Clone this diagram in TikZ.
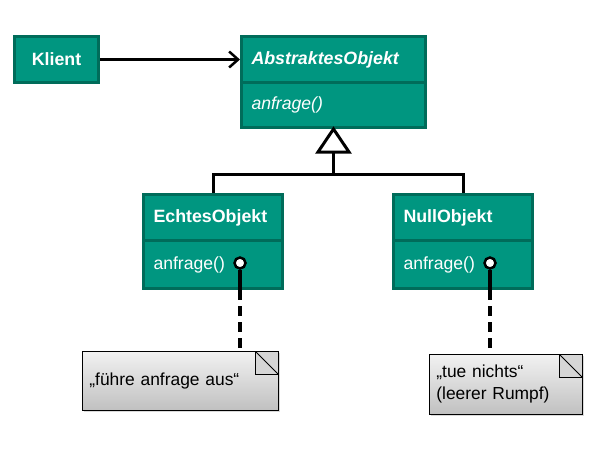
\documentclass[tikz,border=0pt]{standalone}
\usepackage{fontspec}
\setmainfont{Liberation Sans}
\usetikzlibrary{arrows.meta,shadows}
\definecolor{tealF}{RGB}{0,150,128}
\definecolor{tealB}{RGB}{0,108,90}
\definecolor{noteTop}{RGB}{242,242,242}
\definecolor{noteBot}{RGB}{192,192,192}
\definecolor{foldC}{RGB}{214,214,214}
\begin{document}
\begin{tikzpicture}[x=1pt,y=-1pt,
  cls/.style={draw=tealB, fill=tealF, line width=3pt, text=white,
    font=\fontsize{17.6}{20}\selectfont, inner ysep=0pt, inner xsep=10pt,
    anchor=north west, align=left},
  clsbold/.style={cls, font=\fontsize{17.8}{20}\selectfont\bfseries},
  note/.style={draw=black, line width=0.8pt, top color=noteTop, bottom color=noteBot,
    drop shadow={shadow xshift=2pt, shadow yshift=-2pt, fill=black!25, opacity=0.6},
    anchor=north west, inner xsep=7pt, inner ysep=0pt, align=left,
    font=\fontsize{17.4}{22}\selectfont, text=black,
    path picture={
      \fill[foldC] ([xshift=-23pt]path picture bounding box.north east) rectangle ([yshift=-23pt]path picture bounding box.north east);
      \draw[line width=0.8pt] ([xshift=-23pt]path picture bounding box.north east) -- ([xshift=-23pt,yshift=-23pt]path picture bounding box.north east) -- ([yshift=-23pt]path picture bounding box.north east);
      \draw[line width=0.8pt] ([xshift=-23pt]path picture bounding box.north east) -- ([yshift=-23pt]path picture bounding box.north east);
    }},
  ball/.style={circle, draw=black, fill=white, line width=2.5pt, minimum size=11pt, inner sep=0pt},
  gen/.style={line width=3pt, black},
  dashline/.style={line width=4pt, black, dash pattern=on 10pt off 6pt},
]
\useasboundingbox (0,0) rectangle (616,453);

% Klient
\node[clsbold, minimum width=84pt, minimum height=46pt, text width=64pt, align=center] (kl) at (13,35) {Klient};

% AbstraktesObjekt
\node[clsbold, minimum width=184pt, minimum height=46pt, text width=164pt, font=\fontsize{17.8}{20}\selectfont\bfseries\itshape] (abH) at (240,35) {AbstraktesObjekt};
\node[cls, minimum width=184pt, minimum height=45pt, text width=164pt, font=\fontsize{17.6}{20}\selectfont\itshape] (abM) at (240,81) {anfrage()};

% EchtesObjekt
\node[clsbold, minimum width=139pt, minimum height=46pt, text width=119pt] (ecH) at (142,193) {EchtesObjekt};
\node[cls, minimum width=139pt, minimum height=48pt, text width=119pt] (ecM) at (142,239) {anfrage()};

% NullObjekt
\node[clsbold, minimum width=139pt, minimum height=46pt, text width=119pt] (nuH) at (392,193) {NullObjekt};
\node[cls, minimum width=139pt, minimum height=48pt, text width=119pt] (nuM) at (392,239) {anfrage()};

% Notes
\node[note, minimum width=196pt, minimum height=59pt, text width=182pt] (n1) at (82,351) {„führe anfrage aus“};
\node[note, minimum width=153pt, minimum height=60pt, text width=139pt] (n2) at (429,354) {„tue nichts“\\(leerer Rumpf)};

% Association
\draw[line width=2.5pt, -{Straight Barb[length=9pt,width=16pt,line width=2.5pt]}] (kl.east) -- (abH.west);

% Generalization
\coordinate (tb) at ([yshift=-23pt]abM.south);
\coordinate (jn) at ([yshift=-45pt]abM.south);
\draw[gen] (tb) -- (jn);
\draw[gen] (ecH.north) |- (jn) -| (nuH.north);
\draw[gen, fill=white, line join=miter] (abM.south) -- ([xshift=-15.5pt]tb) -- ([xshift=15.5pt]tb) -- cycle;

% Lollipops
\node[ball] (eb) at (240,263) {};
\node[ball] (nb) at (490,263) {};
\draw[line width=3.5pt] (eb.south) -- (eb.south |- ecM.south);
\draw[line width=3.5pt] (nb.south) -- (nb.south |- nuM.south);
\draw[dashline] (eb.south |- ecM.south) -- (eb.south |- n1.north);
\draw[dashline] (nb.south |- nuM.south) -- (nb.south |- n2.north);
\end{tikzpicture}
\end{document}
